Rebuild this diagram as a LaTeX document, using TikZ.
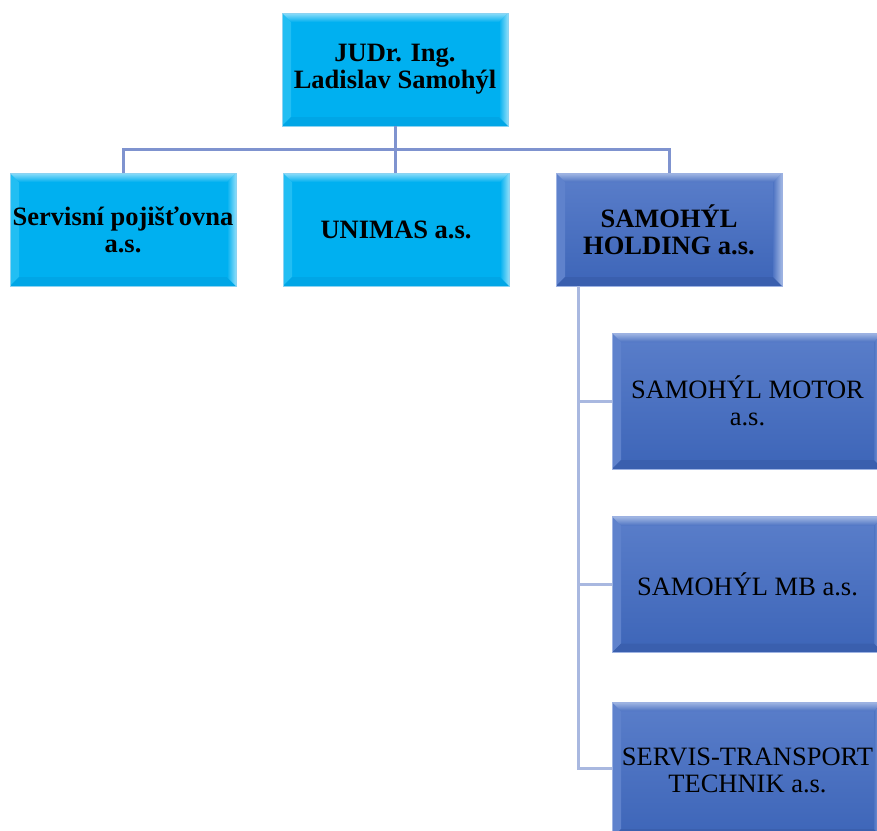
\documentclass[tikz,border=0pt]{standalone}
\usepackage{fontspec}
\setmainfont{Liberation Serif}
\definecolor{cybase}{HTML}{00B0F0}
\definecolor{cytop}{HTML}{8FDDF9}
\definecolor{cyright}{HTML}{D2F3FF}
\definecolor{cybot}{HTML}{00A6E6}
\definecolor{cyleft}{HTML}{22BEF3}
\definecolor{cyedge}{HTML}{8CD3F2}
\definecolor{bltop}{HTML}{5A7ECA}
\definecolor{blbot}{HTML}{3D65B8}
\definecolor{blbev}{HTML}{A3B8E4}
\definecolor{blright}{HTML}{D6E0F6}
\definecolor{blbotb}{HTML}{3A5FAE}
\definecolor{blleft}{HTML}{5F82CC}
\definecolor{bledge}{HTML}{9DB2E2}
\definecolor{conna}{HTML}{7F93CF}
\definecolor{connb}{HTML}{A9B8E0}
\tikzset{
  bevel/.style n args={4}{path picture={
    \def\b{9pt}
    \fill[#4] (path picture bounding box.south west) -- (path picture bounding box.north west) -- ([xshift=\b,yshift=-\b]path picture bounding box.north west) -- ([xshift=\b,yshift=\b]path picture bounding box.south west) -- cycle;
    \fill[#3] (path picture bounding box.south west) -- (path picture bounding box.south east) -- ([xshift=-\b,yshift=\b]path picture bounding box.south east) -- ([xshift=\b,yshift=\b]path picture bounding box.south west) -- cycle;
    \shade[left color=#1, right color=#2] (path picture bounding box.south east) -- (path picture bounding box.north east) -- ([xshift=-\b,yshift=-\b]path picture bounding box.north east) -- ([xshift=-\b,yshift=\b]path picture bounding box.south east) -- cycle;
    \shade[top color=#2, bottom color=#1] (path picture bounding box.north west) -- (path picture bounding box.north east) -- ([xshift=-\b,yshift=-\b]path picture bounding box.north east) -- ([xshift=\b,yshift=-\b]path picture bounding box.north west) -- cycle;
  }},
  cybox/.style={rectangle, inner sep=0pt, minimum width=226pt, minimum height=113pt,
    fill=cybase, draw=cyedge, line width=0.8pt, align=center,
    font=\fontsize{26.5}{27}\selectfont\bfseries,
    bevel={cybase}{cytop}{cybot}{cyleft}},
  hobox/.style={rectangle, inner sep=0pt, minimum width=226pt, minimum height=113pt,
    top color=bltop, bottom color=blbot, draw=bledge, line width=0.8pt, align=center,
    font=\fontsize{26.5}{27}\selectfont\bfseries,
    bevel={bltop!60!blbot}{blbev}{blbotb}{blleft}},
  chbox/.style={rectangle, inner sep=0pt, minimum width=271pt, minimum height=136pt,
    top color=bltop, bottom color=blbot, draw=bledge, line width=0.8pt, align=center,
    font=\fontsize{26.5}{27}\selectfont,
    bevel={bltop!60!blbot}{blbev}{blbotb}{blleft}},
  conn/.style={draw=conna, line width=3pt},
  conn2/.style={draw=connb, line width=3pt}
}
\begin{document}
\begin{tikzpicture}[x=1pt,y=-1pt]
\clip (0,0) rectangle (877,830);
\fill[white] (0,0) rectangle (877,830);
\coordinate (bus) at (395,149);
\coordinate (hx) at (578,286);
\node[cybox] (top) at (395,69.5) {JUDr. Ing.\\Ladislav Samohýl};
\node[cybox] (s1) at (123,229.5) {Servisní pojišťovna\\a.s.};
\node[cybox] (s2) at (396,229.5) {UNIMAS a.s.};
\node[hobox] (s3) at (669,229.5) {SAMOHÝL\\HOLDING a.s.};
\node[chbox] (c1) at (747.5,401) {SAMOHÝL MOTOR\\a.s.};
\node[chbox] (c2) at (747.5,584.5) {SAMOHÝL MB a.s.};
\node[chbox] (c3) at (747.5,770) {SERVIS-TRANSPORT\\TECHNIK a.s.};
\draw[conn] (top.south) -- (bus);
\draw[conn] (bus) -| (s1.north);
\draw[conn] (bus) -| (s3.north);
\draw[conn] (bus) -- (s2.north -| bus);
\draw[conn2] (hx) |- (c1.west);
\draw[conn2] (hx) |- (c2.west);
\draw[conn2] (hx) |- ([yshift=2pt]c3.west);
\end{tikzpicture}
\end{document}
